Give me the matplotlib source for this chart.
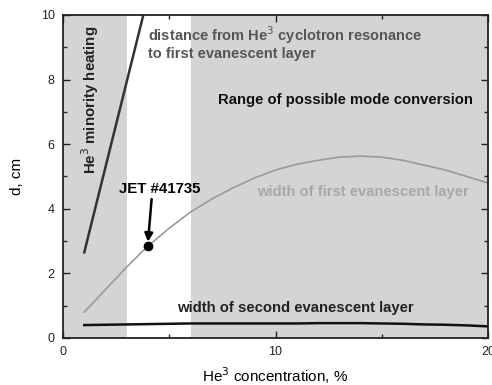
import matplotlib.pyplot as plt
import numpy as np

plt.rcParams['font.family'] = ['Liberation Sans', 'DejaVu Sans']

# shaded bands (He3 %)
gray_bands = [(0, 3), (6, 20)]

# He3 minority heating line
heat_x = [1.0, 3.78]
heat_y = [2.65, 10.0]

# width of first evanescent layer
c_x = [1, 2, 3, 4, 5, 6, 7, 8, 9, 10, 11, 12, 13, 14, 15, 16, 17, 18, 19, 20]
first_w = [0.8, 1.5, 2.2, 2.85, 3.4, 3.9, 4.3, 4.65, 4.95, 5.2, 5.38, 5.5,
           5.6, 5.63, 5.6, 5.5, 5.35, 5.2, 5.0, 4.8]

# width of second evanescent layer
second_w = [0.4, 0.41, 0.42, 0.43, 0.44, 0.45, 0.45, 0.45, 0.45, 0.45, 0.45,
            0.46, 0.46, 0.46, 0.45, 0.44, 0.42, 0.41, 0.39, 0.36]

jet_x, jet_y = 4.0, 2.85

fig = plt.figure(figsize=(4.92, 3.85), dpi=100)
ax = fig.add_axes([63/492, 1 - 338/385, 425/492, 323/385])

for a, b in gray_bands:
    ax.axvspan(a, b, color='#d4d4d4', lw=0, zorder=0)

ax.plot(heat_x, heat_y, color='#333333', lw=1.8, zorder=2)
ax.plot(c_x, first_w, color='#9a9a9a', lw=1.2, zorder=2)
ax.plot(c_x, second_w, color='#111111', lw=1.8, zorder=2)
ax.plot([jet_x], [jet_y], 'o', color='black', ms=6, zorder=3)

# label and arrow pointing at the JET shot
ax.text(4.56, 4.6, 'JET #41735', ha='center', va='center', fontsize=10.8,
        fontweight='bold')
ax.annotate('', xy=(jet_x, jet_y + 0.13), xytext=(4.17, 4.3),
            arrowprops=dict(arrowstyle='-|>', color='black', lw=1.8,
                            mutation_scale=12, shrinkA=0, shrinkB=0))

ax.text(1.27, 7.37, 'He$^3$ minority heating', rotation=90, ha='center',
        va='center', fontsize=10.8, fontweight='bold', color='#222222')
ax.text(4.0, 9.15, 'distance from He$^3$ cyclotron resonance\nto first evanescent layer',
        ha='left', va='center', fontsize=10.5, fontweight='bold', color='#555555',
        linespacing=1.1)
ax.text(7.3, 7.37, 'Range of possible mode conversion', ha='left', va='center',
        fontsize=10.7, fontweight='bold', color='#111111')
ax.text(9.13, 4.52, 'width of first evanescent layer', ha='left', va='center',
        fontsize=10.6, fontweight='bold', color='#a8a8a8')
ax.text(5.36, 0.93, 'width of second evanescent layer', ha='left', va='center',
        fontsize=10.7, fontweight='bold', color='#222222')

ax.set_xlim(0, 20)
ax.set_ylim(0, 10)
ax.set_xticks([0, 10, 20])
ax.set_xticks([5, 15], minor=True)
ax.set_yticks([0, 2, 4, 6, 8, 10])
ax.set_yticks([1, 3, 5, 7, 9], minor=True)
ax.tick_params(which='both', direction='in', top=True, right=True,
               labelsize=9, colors='#222222', width=1)
ax.tick_params(which='major', length=5, pad=6)
ax.tick_params(which='minor', length=3)
for s in ax.spines.values():
    s.set_linewidth(1.3)
    s.set_color('#222222')

ax.set_xlabel('He$^3$ concentration, %', fontsize=11, labelpad=5)
ax.set_ylabel('d, cm', fontsize=11, labelpad=12)

fig.savefig('out.png', dpi=100)
